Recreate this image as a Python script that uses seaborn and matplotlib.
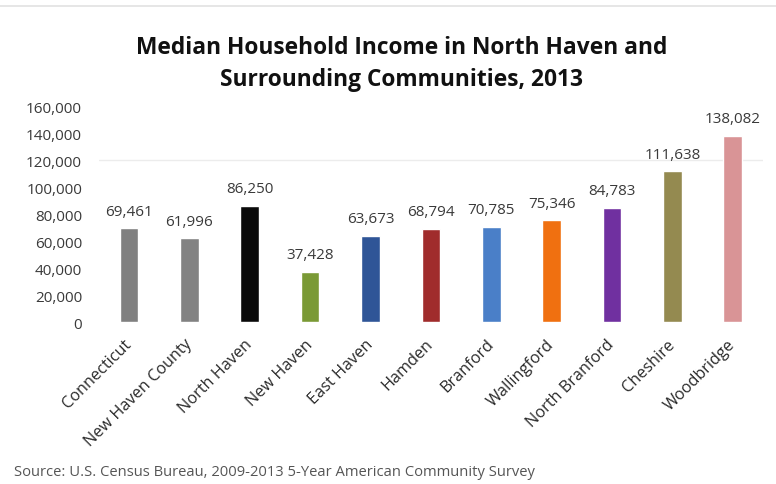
import matplotlib
matplotlib.use("Agg")
import matplotlib.pyplot as plt
from matplotlib.lines import Line2D
import seaborn as sns
import pandas as pd

# Median household income by place, 2013
places = ["Connecticut", "New Haven County", "North Haven", "New Haven", "East Haven",
          "Hamden", "Branford", "Wallingford", "North Branford", "Cheshire", "Woodbridge"]
income = [69461, 61996, 86250, 37428, 63673, 68794, 70785, 75346, 84783, 111638, 138082]
bar_colors = ["#808080", "#828282", "#0a0a0a", "#7a9a35", "#2f5597", "#a02c2c",
              "#4a7fc8", "#f07010", "#7030a0", "#948a50", "#d99496"]
y_ticks = [0, 20000, 40000, 60000, 80000, 100000, 120000, 140000, 160000]
title = "Median Household Income in North Haven and\nSurrounding Communities, 2013"
source = "Source: U.S. Census Bureau, 2009-2013 5-Year American Community Survey"

sns.set_theme(style="white")
plt.rcParams["font.family"] = ["Open Sans", "DejaVu Sans"]

df = pd.DataFrame({"place": places, "income": income})

fig = plt.figure(figsize=(7.76, 4.85), dpi=100)
fig.patch.set_facecolor("white")
ax = fig.add_axes([0.1273, 0.334, 0.856, 0.445])

ax.axhline(120000, color="#ececec", lw=1.0, zorder=0)
sns.barplot(data=df, x="place", y="income", hue="place", palette=bar_colors,
            width=0.31, saturation=1, legend=False, ax=ax, zorder=2)

ax.set_xlim(-0.5, len(places) - 0.5)
ax.set_ylim(0, 160000)
ax.set_yticks(y_ticks)
ax.set_yticklabels([f"{v:,}" for v in y_ticks])
ax.set_xlabel("")
ax.set_ylabel("")
for side in ax.spines.values():
    side.set_visible(False)
ax.tick_params(axis="y", length=0, pad=12, labelsize=11, labelcolor="#3a3a3a")
ax.tick_params(axis="x", length=0, pad=14, labelsize=11.7, labelcolor="#2a2a2a")
for lab in ax.get_xticklabels():
    lab.set_rotation(45)
    lab.set_ha("right")
    lab.set_va("center")
    lab.set_rotation_mode("anchor")

for patch, val in zip(ax.patches, income):
    ax.annotate(f"{val:,}", (patch.get_x() + patch.get_width() / 2, val),
                xytext=(0, 7), textcoords="offset points",
                ha="center", va="bottom", fontsize=11, color="#3a3a3a")

fig.text(0.517, 0.868, title, ha="center", va="center", fontsize=16.4,
         fontweight="bold", color="#111111", linespacing=1.42)
fig.text(0.018, 0.025, source, ha="left", va="center", fontsize=10.6, color="#555555")
fig.add_artist(Line2D([0, 1], [0.986, 0.986], transform=fig.transFigure,
                      color="#e2e2e2", lw=1.2))

fig.savefig("out.png", dpi=100, facecolor="white")
